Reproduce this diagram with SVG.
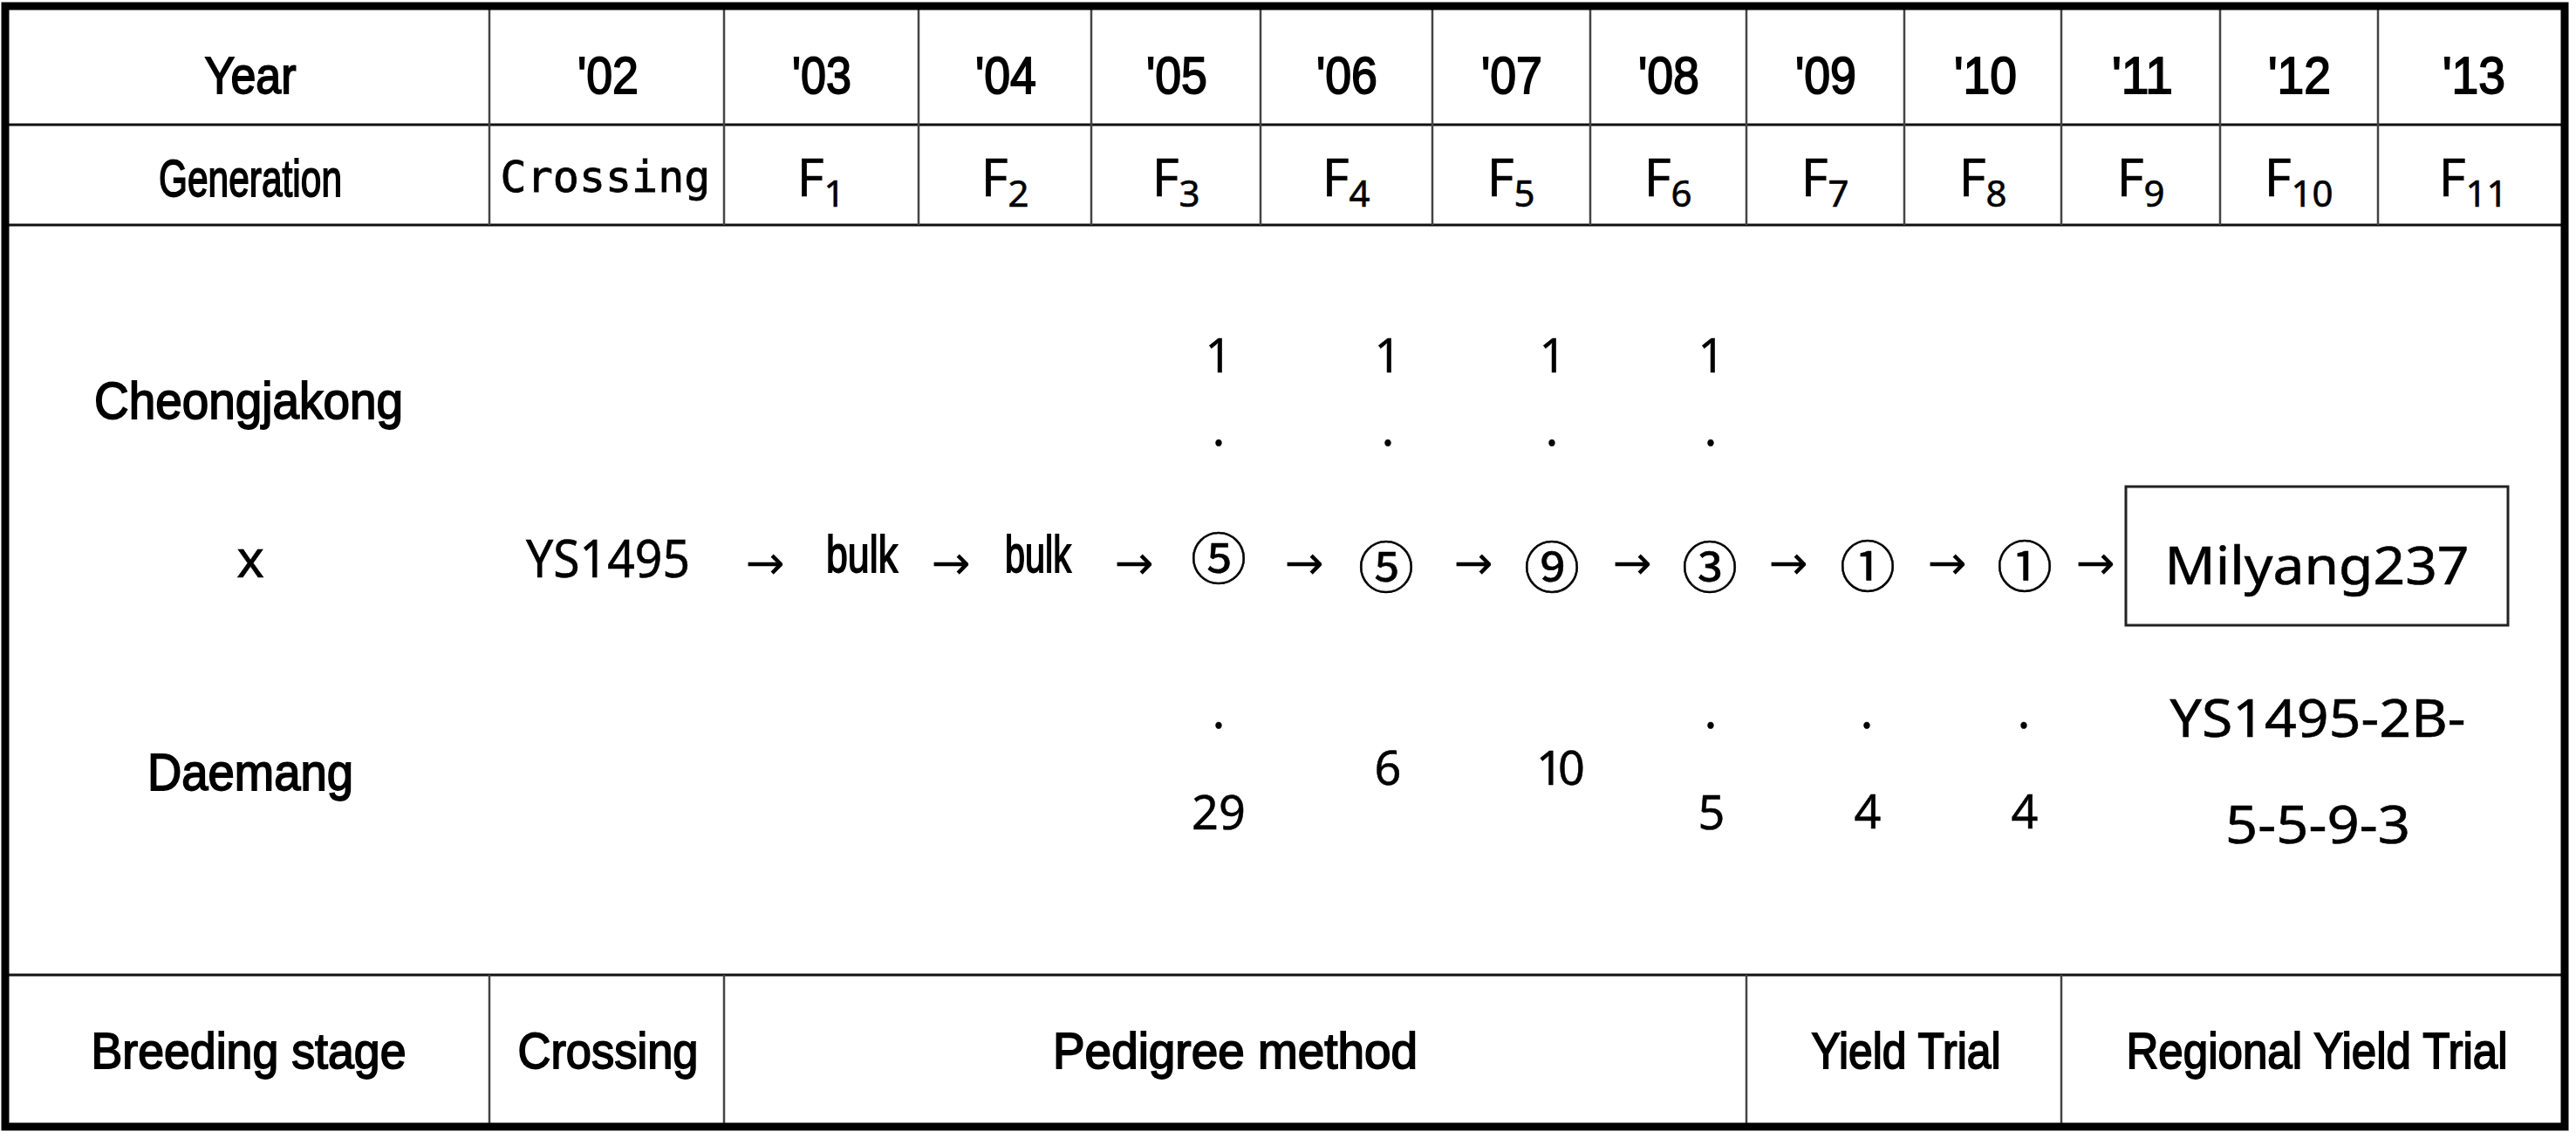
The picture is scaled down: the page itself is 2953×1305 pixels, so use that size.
<svg xmlns="http://www.w3.org/2000/svg" width="2953" height="1305" viewBox="0 0 2953 1305">
<style>
.lbl{font-family:"Liberation Sans",Arial,sans-serif;font-size:60px;fill:#000;stroke:#000;stroke-width:1.8;text-anchor:middle}
.lbl2{font-family:"Liberation Sans",Arial,sans-serif;font-size:57px;fill:#000;stroke:#000;stroke-width:1.8;text-anchor:middle}
.mono{font-family:"DejaVu Sans Mono","Liberation Mono",monospace;font-size:50px;fill:#000;stroke:#000;stroke-width:0.8;text-anchor:middle}
.num{font-family:"Noto Sans","DejaVu Sans",sans-serif;font-size:60px;fill:#000;stroke:#000;stroke-width:0.6;text-anchor:middle}
.sm{font-family:"Noto Sans","DejaVu Sans",sans-serif;font-size:54px;fill:#000;stroke:#000;stroke-width:0.5;text-anchor:middle}
.circ{font-family:"Noto Sans CJK KR","DejaVu Sans",sans-serif;font-size:64px;fill:#000;stroke:#000;stroke-width:0.6;text-anchor:middle}
.arr{font-family:"DejaVu Sans",sans-serif;font-size:54px;fill:#000;text-anchor:middle}
.grid{stroke:#444;stroke-width:2.5;fill:none}
.hl{stroke:#111;stroke-width:3;fill:none}
.sub{font-size:42px}
</style>
<rect x="0" y="0" width="2953" height="1305" fill="#fff"/>
<g id="table-grid">
<line class="hl" x1="6" y1="143" x2="2940" y2="143"/>
<line class="hl" x1="6" y1="258" x2="2940" y2="258"/>
<line class="hl" x1="6" y1="1118" x2="2940" y2="1118" stroke="#333"/>
<path class="grid" d="M561 7V258M830 7V258M1053 7V258M1251 7V258M1445 7V258M1642 7V258M1823 7V258M2002 7V258M2183 7V258M2363 7V258M2545 7V258M2726 7V258"/>
<path class="grid" d="M561 1118V1292M830 1118V1292M2002 1118V1292M2363 1118V1292"/>
<rect x="6" y="7" width="2934" height="1285" fill="none" stroke="#000" stroke-width="9"/>
</g>
<g id="row-year">
<text class="lbl" x="287" y="107" textLength="105" lengthAdjust="spacingAndGlyphs">Year</text>
<text class="lbl" x="697" y="107" textLength="70" lengthAdjust="spacingAndGlyphs">'02</text>
<text class="lbl" x="942" y="107" textLength="68" lengthAdjust="spacingAndGlyphs">'03</text>
<text class="lbl" x="1153" y="107" textLength="70" lengthAdjust="spacingAndGlyphs">'04</text>
<text class="lbl" x="1349" y="107" textLength="70" lengthAdjust="spacingAndGlyphs">'05</text>
<text class="lbl" x="1544" y="107" textLength="70" lengthAdjust="spacingAndGlyphs">'06</text>
<text class="lbl" x="1733" y="107" textLength="70" lengthAdjust="spacingAndGlyphs">'07</text>
<text class="lbl" x="1913" y="107" textLength="70" lengthAdjust="spacingAndGlyphs">'08</text>
<text class="lbl" x="2093" y="107" textLength="70" lengthAdjust="spacingAndGlyphs">'09</text>
<text class="lbl" x="2276" y="107" textLength="72" lengthAdjust="spacingAndGlyphs">'10</text>
<text class="lbl" x="2456" y="107" textLength="70" lengthAdjust="spacingAndGlyphs">'11</text>
<text class="lbl" x="2636" y="107" textLength="72" lengthAdjust="spacingAndGlyphs">'12</text>
<text class="lbl" x="2836" y="107" textLength="72" lengthAdjust="spacingAndGlyphs">'13</text>
</g>
<g id="row-generation">
<text class="lbl" x="287" y="225" font-size="53" textLength="210" lengthAdjust="spacingAndGlyphs">Generation</text>
<text class="mono" x="694" y="220">Crossing</text>
<text class="num" x="941" y="225">F<tspan class="sub" dy="12">1</tspan></text>
<text class="num" x="1152" y="225">F<tspan class="sub" dy="12">2</tspan></text>
<text class="num" x="1348" y="225">F<tspan class="sub" dy="12">3</tspan></text>
<text class="num" x="1543" y="225">F<tspan class="sub" dy="12">4</tspan></text>
<text class="num" x="1732" y="225">F<tspan class="sub" dy="12">5</tspan></text>
<text class="num" x="1912" y="225">F<tspan class="sub" dy="12">6</tspan></text>
<text class="num" x="2092" y="225">F<tspan class="sub" dy="12">7</tspan></text>
<text class="num" x="2273" y="225">F<tspan class="sub" dy="12">8</tspan></text>
<text class="num" x="2454" y="225">F<tspan class="sub" dy="12">9</tspan></text>
<text class="num" x="2635" y="225">F<tspan class="sub" dy="12">10</tspan></text>
<text class="num" x="2835" y="225">F<tspan class="sub" dy="12">11</tspan></text>
</g>
<g id="parents">
<text class="lbl" x="285" y="480" textLength="354" lengthAdjust="spacingAndGlyphs">Cheongjakong</text>
<text class="num" x="287" y="662">x</text>
<text class="lbl" x="287" y="906" textLength="236" lengthAdjust="spacingAndGlyphs">Daemang</text>
</g>
<g id="node-ys1495">
<text class="num" x="697" y="662" textLength="188" lengthAdjust="spacingAndGlyphs">YS1495</text>
</g>
<g id="node-bulk1">
<text class="lbl" x="988" y="656" font-size="50" textLength="82" lengthAdjust="spacingAndGlyphs">bulk</text>
</g>
<g id="node-bulk2">
<text class="lbl" x="1190" y="656" font-size="50" textLength="76" lengthAdjust="spacingAndGlyphs">bulk</text>
</g>
<g id="node-f3">
<text class="sm" x="1397" y="427">1</text>
<text class="sm" x="1397" y="511">.</text>
<text class="circ" x="1397" y="664">⑤</text>
<text class="sm" x="1397" y="835">.</text>
<text class="sm" x="1397" y="951">29</text>
</g>
<g id="node-f4">
<text class="sm" x="1591" y="427">1</text>
<text class="sm" x="1591" y="511">.</text>
<text class="circ" x="1589" y="674">⑤</text>
<text class="sm" x="1591" y="900">6</text>
</g>
<g id="node-f5">
<text class="sm" x="1780" y="427">1</text>
<text class="sm" x="1779" y="511">.</text>
<text class="circ" x="1779" y="674">⑨</text>
<text class="sm" x="1786" y="900" letter-spacing="-6">10</text>
</g>
<g id="node-f6">
<text class="sm" x="1962" y="427">1</text>
<text class="sm" x="1961" y="511">.</text>
<text class="circ" x="1960" y="674">③</text>
<text class="sm" x="1961" y="835">.</text>
<text class="sm" x="1962" y="951">5</text>
</g>
<g id="node-f7">
<text class="circ" x="2141" y="673">①</text>
<text class="sm" x="2140" y="835">.</text>
<text class="sm" x="2141" y="950">4</text>
</g>
<g id="node-f8">
<text class="circ" x="2321" y="673">①</text>
<text class="sm" x="2320" y="835">.</text>
<text class="sm" x="2321" y="950">4</text>
</g>
<g id="node-milyang237">
<rect x="2437" y="558" width="438" height="159" fill="none" stroke="#222" stroke-width="3"/>
<text class="num" x="2656" y="670" textLength="349" lengthAdjust="spacingAndGlyphs">Milyang237</text>
<text class="num" x="2657" y="845" textLength="339" lengthAdjust="spacingAndGlyphs">YS1495-2B-</text>
<text class="num" x="2657" y="967" textLength="212" lengthAdjust="spacingAndGlyphs">5-5-9-3</text>
</g>
<g id="connectors">
<text class="arr" x="877" y="664">→</text>
<text class="arr" x="1090" y="664">→</text>
<text class="arr" x="1300" y="664">→</text>
<text class="arr" x="1495" y="664">→</text>
<text class="arr" x="1689" y="664">→</text>
<text class="arr" x="1871" y="664">→</text>
<text class="arr" x="2050" y="664">→</text>
<text class="arr" x="2232" y="664">→</text>
<text class="arr" x="2402" y="664">→</text>
</g>
<g id="row-stage">
<text class="lbl2" x="285" y="1225" textLength="361" lengthAdjust="spacingAndGlyphs">Breeding stage</text>
<text class="lbl2" x="697" y="1225" textLength="207" lengthAdjust="spacingAndGlyphs">Crossing</text>
<text class="lbl2" x="1416" y="1225" textLength="418" lengthAdjust="spacingAndGlyphs">Pedigree method</text>
<text class="lbl2" x="2185" y="1225" textLength="217" lengthAdjust="spacingAndGlyphs">Yield Trial</text>
<text class="lbl2" x="2656" y="1225" textLength="437" lengthAdjust="spacingAndGlyphs">Regional Yield Trial</text>
</g>
</svg>
